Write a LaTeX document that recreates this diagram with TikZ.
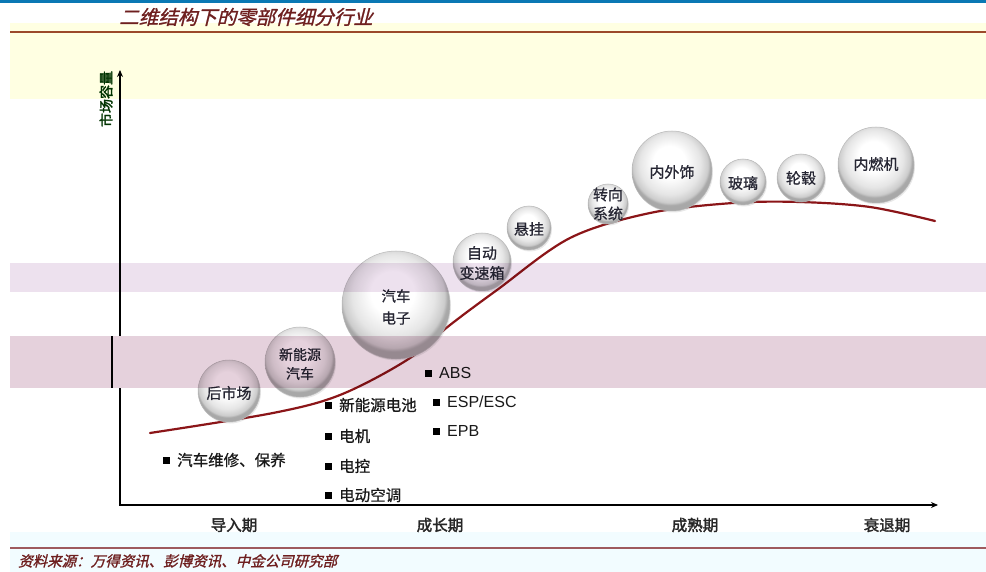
\documentclass[tikz,border=0pt]{standalone}
\usepackage{fontspec}
\usetikzlibrary{shadows,arrows.meta}
\newfontfamily\cjk[FakeBold=0.8]{Noto Sans CJK SC}
\newfontfamily\cjkit[FakeSlant=0.25,FakeBold=1.2]{Noto Sans CJK SC}
\newfontfamily\cjkbf[FakeBold=2]{Noto Sans CJK SC}
\newfontfamily\arialf{Liberation Sans}
\definecolor{topblue}{HTML}{0A78B4}
\definecolor{bandyellow}{HTML}{FFFFE2}
\definecolor{titlered}{HTML}{6E1F1F}
\definecolor{brownline}{HTML}{9C4A2A}
\definecolor{lav}{HTML}{EDE1EE}
\definecolor{pinkband}{HTML}{E5D1DC}
\definecolor{cyanband}{HTML}{F2FCFF}
\definecolor{srcline}{HTML}{9E5A5E}
\definecolor{curvered}{HTML}{8B1518}
\definecolor{bubtext}{HTML}{262633}
\pgfdeclareradialshading{bubble}{\pgfpoint{-2bp}{7bp}}{color(0bp)=(white); color(10bp)=(white); color(19bp)=(black!10); color(23.5bp)=(black!20); color(25bp)=(black!34); color(50bp)=(black!34)}
\tikzset{
  bub/.style={circle, draw=black!28, line width=0.5pt, shading=bubble,
    drop shadow={opacity=0.18, shadow xshift=1pt, shadow yshift=-1.5pt}, inner sep=0pt},
  lbl/.style={font=\cjk\fontsize{15}{18}\selectfont, text=bubtext, align=center, inner sep=0pt},
  item/.style={font=\cjk\fontsize{15.5}{17}\selectfont, text=black!90, anchor=west, inner sep=0pt},
  itemlat/.style={font=\arialf\fontsize{16}{18}\selectfont, text=black!90, anchor=west, inner sep=0pt},
  sq/.style={fill=black, minimum size=7pt, inner sep=0pt},
  stage/.style={font=\cjkbf\fontsize{15.5}{18}\selectfont, text=black!85, inner sep=0pt},
}
\begin{document}
\begin{tikzpicture}[x=1pt,y=-1pt]
\useasboundingbox (0,0) rectangle (986,572);
\fill[white] (0,0) rectangle (986,572);
% top bar and title band
\fill[topblue] (0,0) rectangle (986,3.5);
\fill[bandyellow] (10,23) rectangle (986,99);
\draw[brownline, line width=2pt] (10,32) -- (986,32);
\node[font=\cjkit\fontsize{19.5}{22}\selectfont, text=titlered, inner sep=0pt] (title) at (246,17) {二维结构下的零部件细分行业};
% bottom band
\fill[cyanband] (10,532) rectangle (986,572);
\draw[srcline, line width=1.5pt] (10,548) -- (986,548);
\node[font=\cjkit\fontsize{14.5}{16}\selectfont, text=titlered, anchor=west, inner sep=0pt] (src) at (18,561) {资料来源：万得资讯、彭博资讯、中金公司研究部};
% axes
\coordinate (O) at (120,505);
\coordinate (Ytop) at (120,70);
\coordinate (Xend) at (938,505);
\draw[line width=1.8pt, {Stealth[length=7pt,width=6pt]}-{Stealth[length=7pt,width=6pt]}] (Ytop) -- (O) -- (Xend);
\node[font=\cjkbf\fontsize{14}{16}\selectfont, text=black!80!green, rotate=90, inner sep=0pt] (ylab) at (106,99) {市场容量};
% stage labels
\node[stage] (s1) at (234,525) {导入期};
\node[stage] (s2) at (440,525) {成长期};
\node[stage] (s3) at (695,525) {成熟期};
\node[stage] (s4) at (887,525) {衰退期};
% curve
\draw[curvered, line width=2.2pt, line cap=round] plot[smooth, tension=0.55] coordinates {(150,433) (273,413) (340,395) (407,360) (450,325) (497,290) (570,238) (650,213) (733,203) (800,202) (870,207) (935,221)};
% bubbles
\node[bub, minimum size=62pt] (hsc) at (229,391) {};
\node[lbl] at (229,393) {后市场};
\node[bub, minimum size=70pt] (xny) at (300,362) {};
\node[lbl, font=\cjk\fontsize{14}{19}\selectfont] at (300,364) {新能源\\汽车};
\node[bub, minimum size=108pt] (qcdz) at (396,305) {};
\node[lbl, font=\cjk\fontsize{14.5}{22}\selectfont] at (396,307) {汽车\\电子};
\node[bub, minimum size=58pt] (zdbs) at (482,262) {};
\node[lbl, font=\cjk\fontsize{15}{20}\selectfont] at (482,263) {自动\\变速箱};
\node[bub, minimum size=44pt] (xg) at (529,228) {};
\node[lbl] at (529,229) {悬挂};
\node[bub, minimum size=40pt] (zx) at (608,204) {};
\node[lbl, font=\cjk\fontsize{15}{19}\selectfont] at (608,204) {转向\\系统};
\node[bub, minimum size=80pt] (nws) at (672,171) {};
\node[lbl] at (672,172) {内外饰};
\node[bub, minimum size=46pt] (bl) at (743,182) {};
\node[lbl] at (743,183) {玻璃};
\node[bub, minimum size=48pt] (lg) at (801,178) {};
\node[lbl] at (801,178) {轮毂};
\node[bub, minimum size=76pt] (nrj) at (876,165) {};
\node[lbl] at (876,164) {内燃机};
% bullet items
\node[sq] (b1) at (166.5,460) {};
\node[item] (t1) at (177,460) {汽车维修、保养};
\node[sq] (b2) at (328.5,405) {};
\node[item] (t2) at (339,405) {新能源电池};
\node[sq] (b3) at (328.5,436) {};
\node[item] (t3) at (339,436) {电机};
\node[sq] (b4) at (328.5,466) {};
\node[item] (t4) at (339,466) {电控};
\node[sq] (b5) at (328.5,495) {};
\node[item] (t5) at (339,495) {电动空调};
\node[sq] (b6) at (428.5,373) {};
\node[itemlat] (t6) at (439,373) {ABS};
\node[sq] (b7) at (436.5,402) {};
\node[itemlat] (t7) at (447,402) {ESP/ESC};
\node[sq] (b8) at (436.5,431) {};
\node[itemlat] (t8) at (447,431) {EPB};
% overlay bands
\fill[lav, blend mode=multiply] (10,263) rectangle (986,292);
\fill[pinkband, blend mode=multiply] (10,336) rectangle (986,388);
\fill[pinkband] (114,336) rectangle (127,388);
\draw[black, line width=1.6pt] (112,336) -- (112,388);
\end{tikzpicture}
\end{document}
